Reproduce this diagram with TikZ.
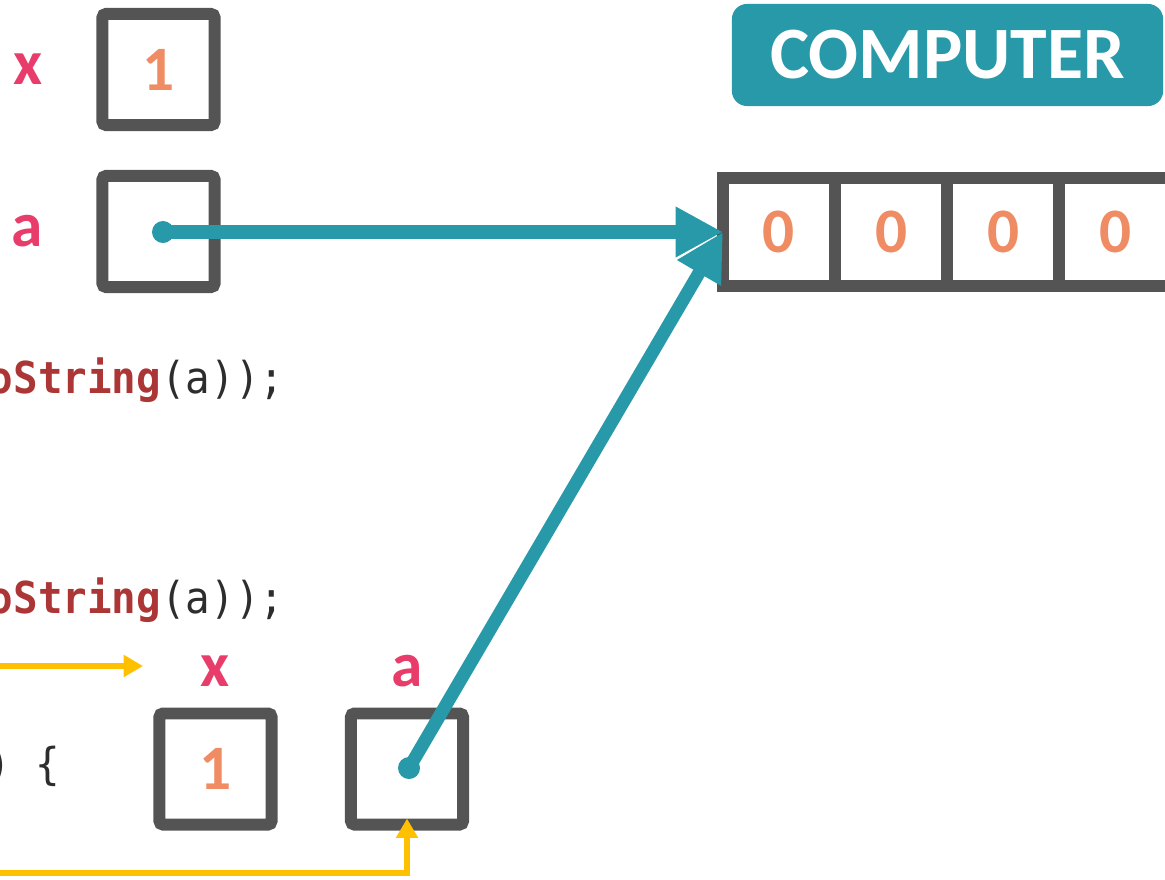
\documentclass[tikz,border=0pt]{standalone}
\usepackage{fontspec}
\setmainfont{Carlito}
\newfontfamily\codefont[FakeStretch=0.93]{DejaVu Sans Mono}
\usetikzlibrary{positioning}
\usetikzlibrary{arrows.meta}
\definecolor{boxgray}{HTML}{545454}
\definecolor{varpink}{HTML}{E83D6A}
\definecolor{valorange}{HTML}{EF8C63}
\definecolor{tealref}{HTML}{2899A8}
\definecolor{callyellow}{HTML}{FFC000}
\definecolor{codered}{HTML}{AC3535}
\definecolor{codeblack}{HTML}{2D2D2D}
\tikzset{
    cell/.style = {rectangle, line width=3.4pt, draw=boxgray, rounded corners=1pt, outer sep=0pt, minimum width=1.12cm, minimum height=1.11cm, text=valorange, font=\bfseries\fontsize{18}{20}\selectfont},
    arrcell/.style = {cell, sharp corners, minimum height=1.08cm},
    varlbl/.style = {text=varpink, inner sep=0pt, font=\bfseries\fontsize{18}{20}\selectfont},
    refdot/.style = {circle, fill=tealref, inner sep=0pt, minimum size=0.22cm},
    ptr/.style = {-{Triangle[length=13.5pt,width=13.5pt]}, line width=3.7pt, draw=tealref},
    callarrow/.style = {-{Triangle[length=5.5pt,width=6pt]}, line width=1.7pt, draw=callyellow},
    code/.style = {anchor=base east, inner sep=0pt, text=codeblack, font=\codefont\fontsize{12.5}{14}\selectfont},
    banner/.style = {rectangle, rounded corners=4.3pt, fill=tealref, text=white, minimum width=4.31cm, minimum height=1.02cm, font=\bfseries\fontsize{21}{24}\selectfont}
}
\begin{document}
\begin{tikzpicture}[x=0.01cm, y=-0.01cm]
\useasboundingbox (0,0) rectangle (1165,879);
\clip (0,0) rectangle (1165,879);
%
\node[banner] at (947.5,55) (comp) {COMPUTER};
%
\node[cell, label={[varlbl,label distance=0.59cm]left:x}] at (158.5,69.5) (mx) {1};
\node[cell, label={[varlbl,label distance=0.59cm]left:a}] at (158.5,231.5) (ma) {};
%
\node[arrcell] at (779,232) (c1) {0};
\node[arrcell, right=0pt of c1] (c2) {0};
\node[arrcell, right=0pt of c2] (c3) {0};
\node[arrcell, right=0pt of c3] (c4) {0};
%
\node[code] at (285,393) (line1) {\textcolor{codered}{\bfseries toString}(a));};
\node[code] at (285,613) (line2) {\textcolor{codered}{\bfseries toString}(a));};
\node[code] at (61,779) (line3) {) \{};
%
\node[cell, label={[varlbl,label distance=0.26cm]above:x}] at (215.5,769) (fx) {1};
\node[cell, label={[varlbl,label distance=0.26cm]above:a}] at (407,769) (fa) {};
%
\coordinate (callx) at (-10,666);
\coordinate (xin) at (143,666);
\coordinate (calla) at (-10,873);
\draw[callarrow] (callx) -- (xin);
\draw[callarrow, shorten >=-1.7pt] (calla) -| (fa.south);
%
\node[refdot] at (163,232) (da) {};
\node[refdot] at (409,768) (db) {};
\draw[ptr] (da.center) -- (c1.west);
\draw[ptr] (db.center) -- (c1.west);

\end{tikzpicture}
\end{document}
